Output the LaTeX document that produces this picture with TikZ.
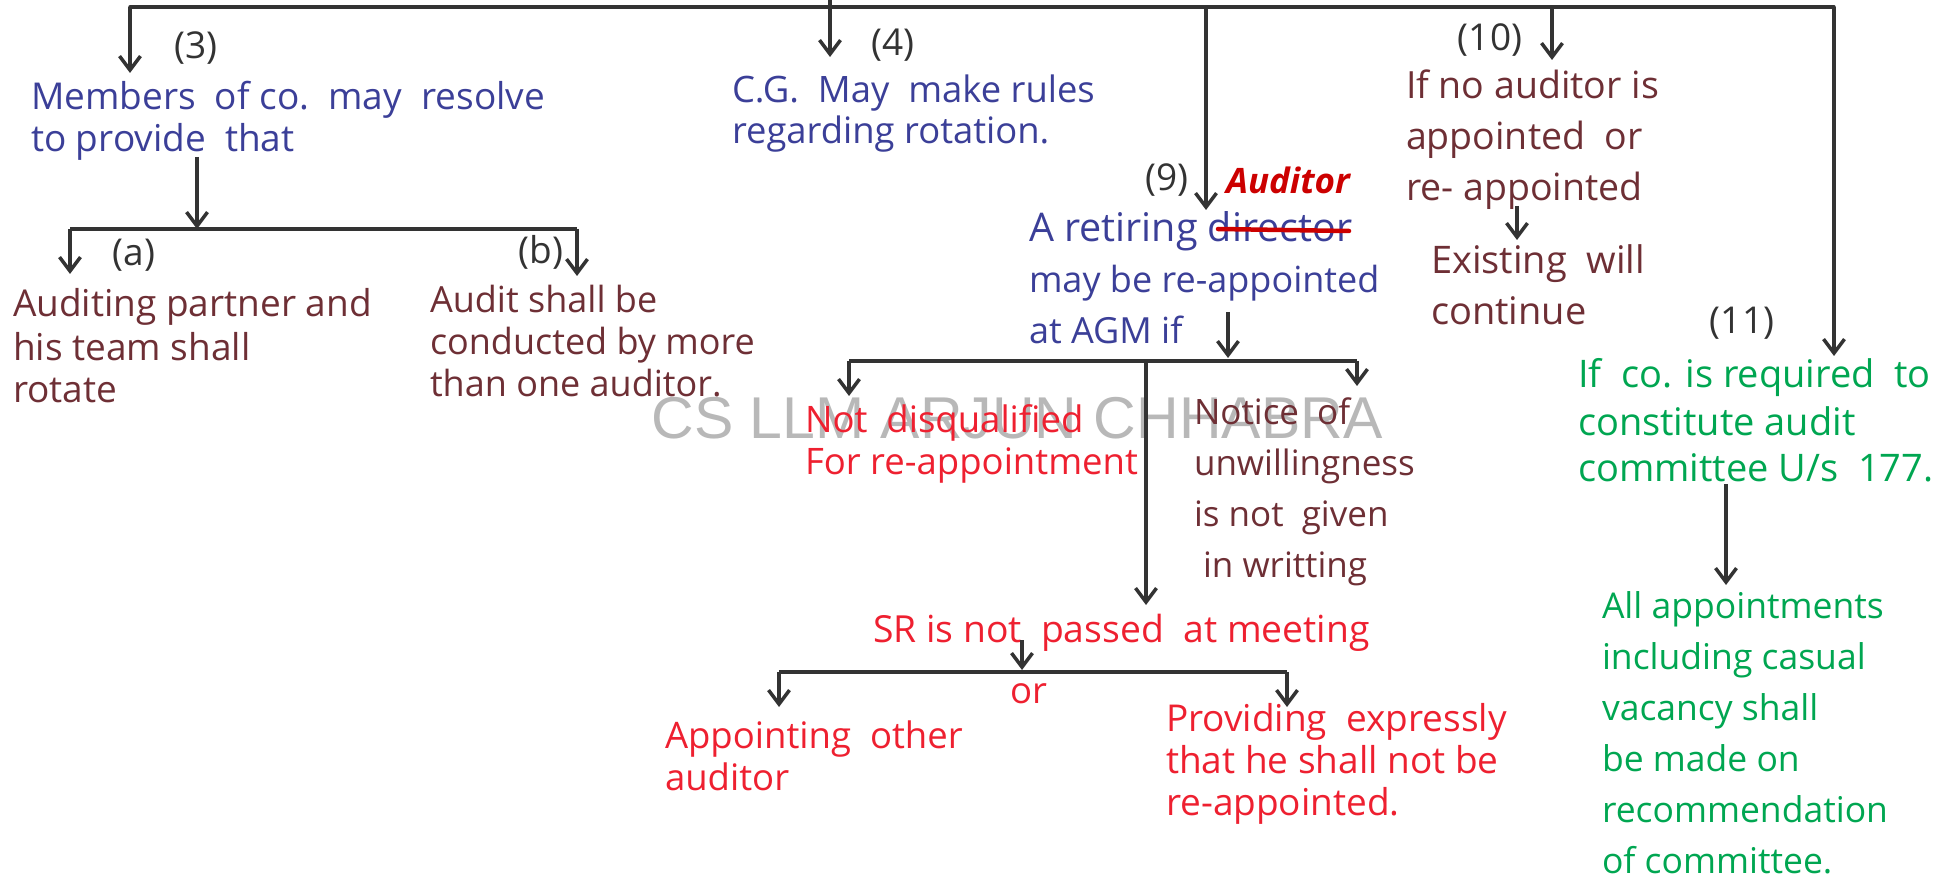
\documentclass[tikz,border=0pt]{standalone}
\usepackage{fontspec}
\setmainfont{Open Sans}
\newfontfamily\wmfont{Liberation Sans}
\usetikzlibrary{arrows.meta}
\definecolor{lineC}{HTML}{333333}
\definecolor{blueC}{HTML}{3B3F98}
\definecolor{brownC}{HTML}{6E2F35}
\definecolor{redC}{HTML}{EE2030}
\definecolor{greenC}{HTML}{00A651}
\definecolor{markC}{HTML}{CC0000}
\newcommand{\fs}{\rule{0pt}{30pt}}
\tikzset{
  x=1pt,y=-1pt,
  conn/.style={draw=lineC,line width=3.5pt},
  arr/.style={conn,-{Straight Barb[length=14pt,width=21pt,line width=3.5pt]}},
  lead/.style 2 args={font=\fontsize{#1}{#2}\selectfont},
  txt/.style={anchor=north west,inner sep=0pt,outer sep=0pt,align=left,lead={36.5}{42}},
  bluetxt/.style={txt,text=blueC},
  browntxt/.style={txt,text=brownC},
  redtxt/.style={txt,text=redC},
  greentxt/.style={txt,text=greenC},
  numtxt/.style={inner sep=0pt,text=lineC,font=\fontsize{37}{44}\selectfont},
}
\begin{document}
\begin{tikzpicture}
\useasboundingbox (0,0) rectangle (1955,882);
% watermark
\node[inner sep=0pt,text=black!28,font=\wmfont\fontsize{59}{66}\selectfont] (wm) at (1017,418) {CS LLM ARJUN CHHABRA};
% coordinates
\coordinate (topL) at (130,7);
\coordinate (topR) at (1834,7);
\coordinate (topIn) at (830,0);
\coordinate (e3) at (130,73);
\coordinate (t4) at (830,7);
\coordinate (e4) at (830,57);
\coordinate (t9) at (1206,7);
\coordinate (e9) at (1206,210);
\coordinate (t10) at (1552,7);
\coordinate (e10) at (1552,60);
\coordinate (e11) at (1834,356);
\coordinate (s3) at (197,157);
\coordinate (j3) at (197,229);
\coordinate (bL3) at (70,229);
\coordinate (bR3) at (577,229);
\coordinate (ea) at (70,274);
\coordinate (eb) at (577,276);
\coordinate (s9) at (1228,312);
\coordinate (j9) at (1228,358);
\coordinate (bL9) at (849,361);
\coordinate (bR9) at (1357,361);
\coordinate (bM9) at (1146,361);
\coordinate (e9a) at (849,396);
\coordinate (e9b) at (1357,386);
\coordinate (e9c) at (1146,605);
\coordinate (sSR) at (1022,640);
\coordinate (jSR) at (1022,670);
\coordinate (bLS) at (779,672);
\coordinate (bRS) at (1287,672);
\coordinate (eLS) at (779,707);
\coordinate (eRS) at (1287,707);
\coordinate (s10) at (1517,206);
\coordinate (e10b) at (1517,240);
\coordinate (s11) at (1726,484);
\coordinate (e11b) at (1726,585);
\coordinate (st1) at (1218,229);
\coordinate (st2) at (1349,231);
% text
\node[numtxt] (n3) at (196,48) {(3)};
\node[numtxt] (n4) at (893,45) {(4)};
\node[numtxt] (n9) at (1167,180) {(9)};
\node[numtxt] (n10) at (1490,40) {(10)};
\node[numtxt] (n11) at (1742,323) {(11)};
\node[numtxt] (na) at (134,255) {(a)};
\node[numtxt] (nb) at (541,252) {(b)};
\node[bluetxt,lead={37}{42}] (t3) at (31,80) {\fs Members\ \ of co.\ \ may\ \ resolve\\to provide\ \ that};
\node[browntxt,lead={37}{43}] (ta) at (13,287) {\fs Auditing partner and\\his team shall\\rotate};
\node[browntxt,lead={36}{42}] (tb) at (430,283) {\fs Audit shall be\\conducted by more\\than one auditor.};
\node[bluetxt,lead={36.4}{41}] (t4x) at (732,73) {\fs C.G.\ \ May\ \ make rules\\regarding rotation.};
\node[bluetxt,lead={36}{51}] (t9x) at (1029,211) {\fs{\fontsize{39.5}{51}\selectfont A retiring director}\\may be re-appointed\\at AGM if};
\node[redtxt,lead={36.5}{43}] (td) at (805,402) {\fs Not\ \ disqualified\\For re-appointment};
\node[browntxt,lead={35}{51}] (tn) at (1194,394) {\fs Notice\ \ of\\unwillingness\\is not\ \ given\\\ in writting};
\node[redtxt,lead={37.3}{42}] (tsr) at (873,612) {\fs SR is not\ \ passed\ \ at meeting};
\node[redtxt] (tor) at (1010,673) {\fs or};
\node[redtxt,lead={36.5}{42}] (tap) at (665,718) {\fs Appointing\ \ other\\auditor};
\node[redtxt,lead={37}{42}] (tpr) at (1166,701) {\fs Providing\ \ expressly\\that he shall not be\\re-appointed.};
\node[browntxt,lead={37.5}{51}] (t10x) at (1406,69) {\fs If no auditor is\\appointed\ \ or\\re- appointed};
\node[browntxt,lead={38}{51}] (tex) at (1431,244) {\fs Existing\ \ will\\continue};
\node[greentxt,lead={38}{47}] (t11) at (1578,358) {\fs If\ \ co. is required\ \ to\\constitute audit\\committee U/s\ \ 177.};
\node[greentxt,lead={35.5}{51}] (tall) at (1602,588) {\fs All appointments\\including casual\\vacancy shall\\be made on\\recommendation\\of committee.};
\node[inner sep=0pt,text=markC,font=\bfseries\itshape\fontsize{35}{40}\selectfont] (taud) at (1288,180) {Auditor};
% connectors
\draw[conn,line cap=round] (topL) -- (topR);
\draw[conn] (topIn) -- (t4);
\draw[arr] (topL) -- (e3);
\draw[arr] (t4) -- (e4);
\draw[arr] (t9) -- (e9);
\draw[arr] (t10) -- (e10);
\draw[arr] (topR) -- (e11);
\draw[arr] (s3) -- (j3);
\draw[conn] (bL3) -- (bR3);
\draw[arr] (bL3) -- (ea);
\draw[arr] (bR3) -- (eb);
\draw[arr] (s9) -- (j9);
\draw[conn] (bL9) -- (bR9);
\draw[arr] (bL9) -- (e9a);
\draw[arr] (bR9) -- (e9b);
\draw[arr] (bM9) -- (e9c);
\draw[arr] (sSR) -- (jSR);
\draw[conn] (bLS) -- (bRS);
\draw[arr] (bLS) -- (eLS);
\draw[arr] (bRS) -- (eRS);
\draw[arr] (s10) -- (e10b);
\draw[arr] (s11) -- (e11b);
\draw[draw=markC,line width=4.5pt,line cap=round] (st1) -- (st2);
\end{tikzpicture}
\end{document}
